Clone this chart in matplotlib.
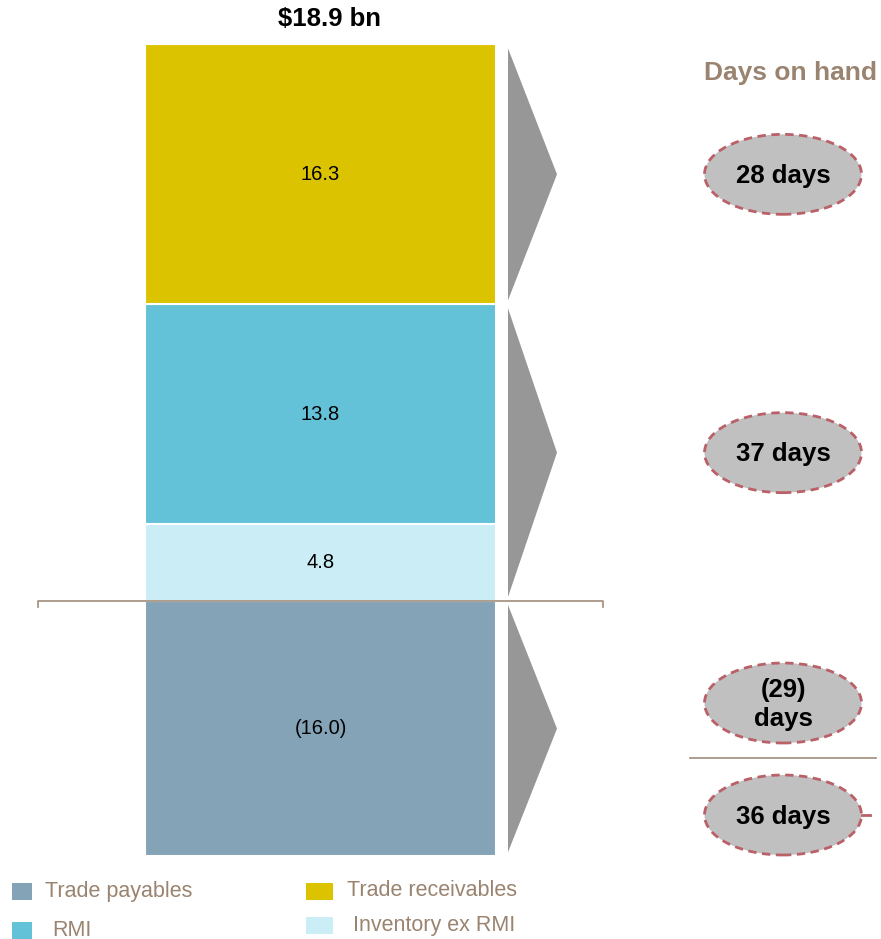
import matplotlib
matplotlib.use("Agg")
import matplotlib.pyplot as plt
from matplotlib.patches import Ellipse, Polygon, Rectangle

plt.rcParams['font.family'] = ['Liberation Sans', 'DejaVu Sans']

# data
segments = ["Trade receivables", "RMI", "Inventory ex RMI"]
seg_values = [16.3, 13.8, 4.8]
payables = -16.0
total_label = "$18.9 bn"
days_labels = ["28 days", "37 days", "(29)\ndays", "36 days"]
days_px = [None, None, 703, 815]   # payables ovals placed by hand, others centred on groups
legend_names = ["Trade payables", "RMI", "Trade receivables", "Inventory ex RMI"]

colors = {
    "Trade receivables": "#DCC300",
    "RMI": "#63C2D7",
    "Inventory ex RMI": "#CBEDF5",
    "Trade payables": "#85A3B6",
}
brown = "#9A8470"
grey = "#979797"

W, H = 881, 939
fig = plt.figure(figsize=(W / 100, H / 100), dpi=100)
ax = fig.add_axes([0, 0, 1, 1])
ax.axis('off')

# y in $bn, x in pixels; zero line at 601 px
ppu = 15.95
zero_px = 601
ax.set_xlim(0, W)
ax.set_ylim((zero_px - H) / ppu, zero_px / ppu)

def py(p):
    # pixel row -> data y
    return (zero_px - p) / ppu

bar_x, bar_w = 320.5, 351

# stacked positive bars (receivables on top)
order = ["Inventory ex RMI", "RMI", "Trade receivables"]
bottom = 0
tops = {}
for name in order:
    v = seg_values[segments.index(name)]
    ax.bar(bar_x, v, bottom=bottom, width=bar_w, color=colors[name],
           edgecolor='white', linewidth=1.5)
    ax.text(bar_x, bottom + v / 2, f"{v:.1f}", ha='center', va='center', fontsize=14.5)
    tops[name] = (bottom, bottom + v)
    bottom += v
top_total = bottom

ax.bar(bar_x, payables, bottom=0, width=bar_w, color=colors["Trade payables"],
       edgecolor='white', linewidth=1.5)
ax.text(bar_x, payables / 2, f"({abs(payables):.1f})", ha='center', va='center', fontsize=14.5)

ax.text(329, py(19), total_label, ha='center', va='center',
        fontsize=18.5, fontweight='bold')

# chevrons for each group
groups = [
    tops["Trade receivables"],
    (0, tops["RMI"][1]),
    (payables, 0),
]
gap = 0.25
for lo, hi in groups:
    lo2, hi2 = lo + gap, hi - gap
    ax.add_patch(Polygon([[508, hi2], [557, (lo2 + hi2) / 2], [508, lo2]],
                         closed=True, facecolor=grey, edgecolor='none'))

# zero line with end ticks
ax.plot([38, 38, 603, 603], [-0.4, 0, 0, -0.4], color='#A08C7A', lw=1.2)

# days on hand
ax.text(791, py(73), "Days on hand", ha='center', va='center',
        fontsize=19, fontweight='bold', color=brown)

oval_y = [sum(groups[0]) / 2, sum(groups[1]) / 2, py(days_px[2]), py(days_px[3])]
for lab, y in zip(days_labels, oval_y):
    ax.add_patch(Ellipse((783, y), 157, 80 / ppu, facecolor='#C0C0C0',
                         edgecolor='#BA6068', lw=2, linestyle=(0, (3, 2))))
    ax.text(783, y - 0.1, lab, ha='center', va='center', fontsize=18.5,
            fontweight='bold', linespacing=1.25)

ax.plot([690, 876], [py(758), py(758)], color='#A08C7A', lw=1.2)
ax.plot([862, 870], [oval_y[3], oval_y[3]], color='#BA6068', lw=2)

# legend
leg_pos = [(12, 891), (12, 930), (306, 891), (306, 925)]
txt_x = [45, 52, 347, 353]
for name, (lx, ly), tx in zip(legend_names, leg_pos, txt_x):
    yc = py(ly)
    hh = 17 / ppu
    ww = 20 if lx < 100 else 27
    ax.add_patch(Rectangle((lx, yc - hh / 2), ww, hh, facecolor=colors[name],
                           edgecolor='none'))
    ax.text(tx, yc, name, ha='left', va='center', fontsize=15.5, color=brown)

fig.savefig("out.png", dpi=100)
